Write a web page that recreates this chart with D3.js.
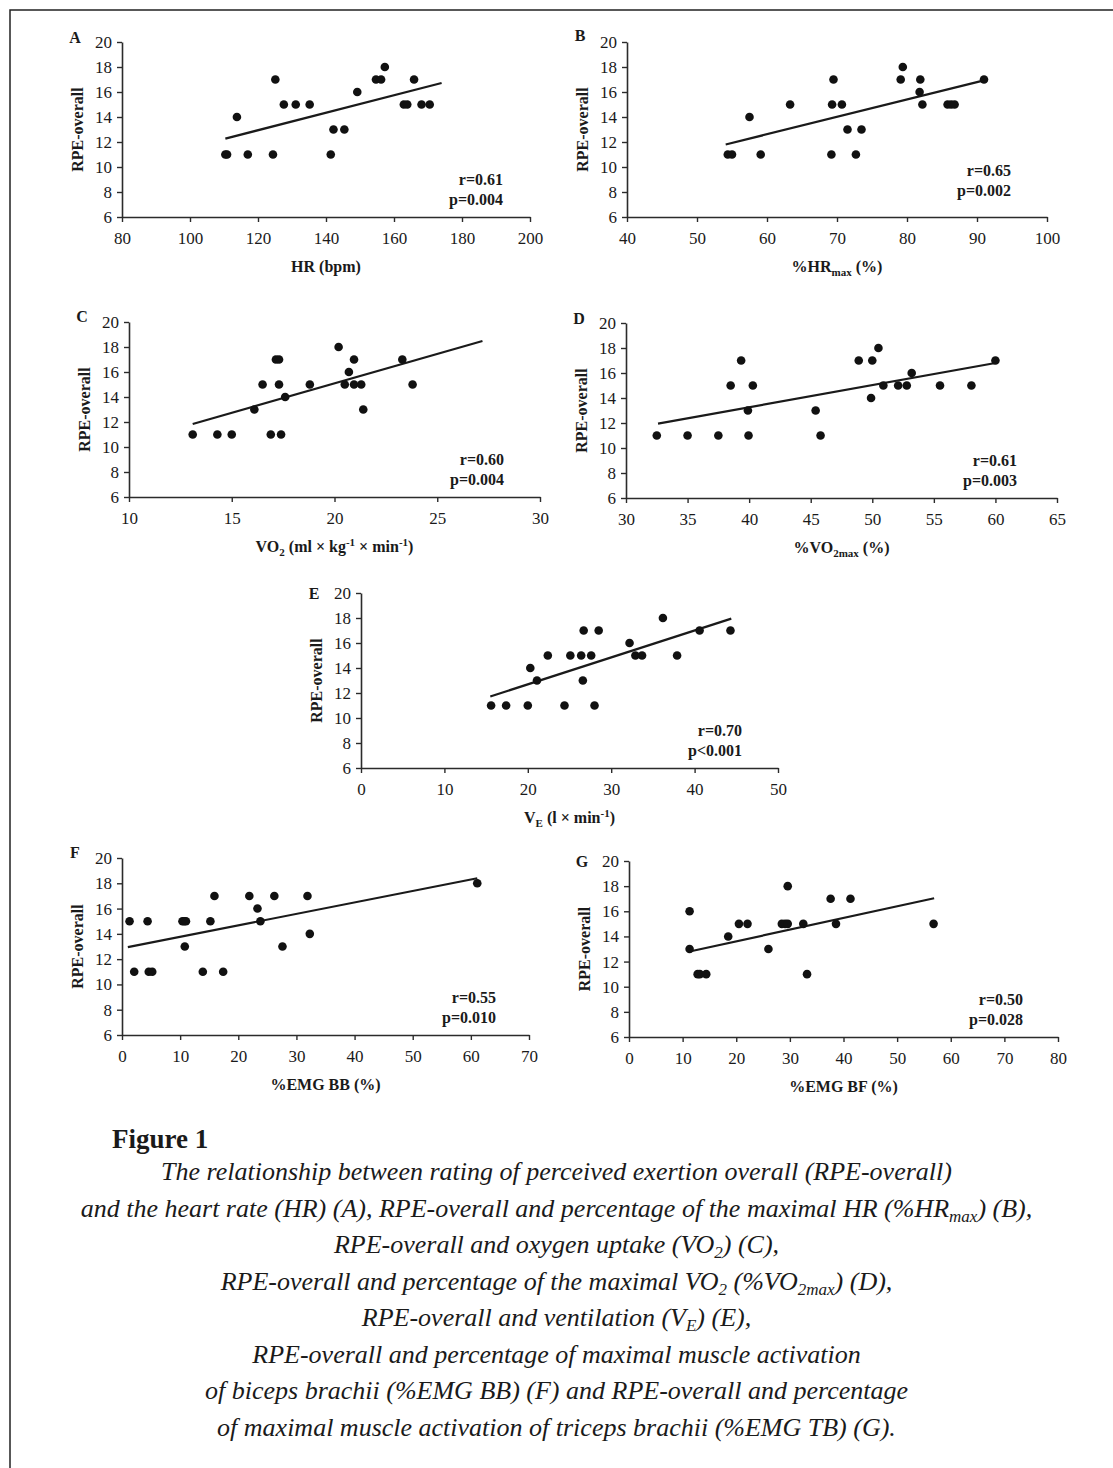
<!DOCTYPE html>
<html>
<head>
<meta charset="utf-8">
<script src="https://cdn.jsdelivr.net/npm/d3@7"></script>
<style>
  body { margin: 0; background: #fff; }
  svg text { font-family: "Liberation Serif", "Times New Roman", serif; fill: #1a1a1a; }
</style>
</head>
<body>
<script>
// RPE-overall scale (y axis, shared by all panels)
var rpeTicks = [6, 8, 10, 12, 14, 16, 18, 20];

// A: heart rate
var hrX = [110.4, 110.9, 113.8, 117, 124.4, 125.1, 127.6, 131.1, 135.2, 141.4, 142.2, 145.4, 149.2, 154.7, 156.2, 157.3, 162.9, 163.9, 165.9, 168.1, 170.5];
var hrY = [11, 11, 14, 11, 11, 17, 15, 15, 15, 11, 13, 13, 16, 17, 17, 18, 15, 15, 17, 15, 15];
var hrFit = [[110.4, 12.27], [174, 16.72]];

// B: %HRmax
var hrMaxX = [54.4, 55.0, 57.5, 59.1, 63.3, 69.2, 69.3, 69.5, 70.7, 71.5, 72.7, 73.5, 79.1, 79.4, 81.8, 81.9, 82.2, 85.8, 86.3, 86.8, 91.0];
var hrMaxY = [11, 11, 14, 11, 15, 11, 15, 17, 15, 13, 11, 13, 17, 18, 16, 17, 15, 15, 15, 15, 17];
var hrMaxFit = [[54.1, 11.8], [91, 16.93]];

// C: VO2
var vo2X = [13.1, 14.3, 15.0, 16.1, 16.5, 16.9, 17.15, 17.3, 17.3, 17.4, 17.6, 18.8, 20.2, 20.5, 20.7, 20.95, 20.95, 21.3, 21.4, 23.3, 23.8];
var vo2Y = [11, 11, 11, 13, 15, 11, 17, 17, 15, 11, 14, 15, 18, 15, 16, 17, 15, 15, 13, 17, 15];
var vo2Fit = [[13.1, 11.84], [27.2, 18.48]];

// D: %VO2max
var vo2MaxX = [32.5, 35.0, 37.5, 38.5, 39.35, 39.9, 39.95, 40.3, 45.4, 45.8, 48.9, 49.9, 50.0, 50.5, 50.9, 52.1, 52.8, 53.2, 55.5, 58.05, 60.0];
var vo2MaxY = [11, 11, 11, 15, 17, 13, 11, 15, 13, 11, 17, 14, 17, 18, 15, 15, 15, 16, 15, 15, 17];
var vo2MaxFit = [[32.6, 11.95], [60, 16.8]];

// E: ventilation
var veX = [15.6, 17.4, 20.0, 20.3, 21.1, 22.4, 24.4, 25.1, 26.4, 26.6, 26.7, 27.6, 28.0, 28.5, 32.2, 32.9, 33.7, 36.2, 37.9, 40.6, 44.3];
var veY = [11, 11, 11, 14, 13, 15, 11, 15, 15, 13, 17, 15, 11, 17, 16, 15, 15, 18, 15, 17, 17];
var veFit = [[15.5, 11.72], [44.4, 17.95]];

// F: %EMG BB
var emgBbX = [1.3, 2.1, 4.4, 4.6, 5.2, 10.4, 10.7, 10.8, 11.0, 13.9, 15.2, 15.9, 17.4, 21.9, 23.3, 23.8, 26.2, 27.6, 31.9, 32.3, 61.1];
var emgBbY = [15, 11, 15, 11, 11, 15, 15, 13, 15, 11, 15, 17, 11, 17, 16, 15, 17, 13, 17, 14, 18];
var emgBbFit = [[1.0, 12.95], [61.1, 18.4]];

// G: %EMG BF
var emgBfX = [11.3, 11.3, 12.8, 13.2, 14.4, 18.5, 20.5, 22.1, 26.0, 28.5, 29.1, 29.6, 29.6, 32.5, 33.2, 37.6, 38.6, 41.3, 56.8];
var emgBfY = [16, 13, 11, 11, 11, 14, 15, 15, 13, 15, 15, 18, 15, 15, 11, 17, 15, 17, 15];
var emgBfFit = [[11.3, 12.8], [56.9, 17.04]];

var captionLines = [
  [['The relationship between rating of perceived exertion overall (RPE-overall)']],
  [['and the heart rate (HR) (A), RPE-overall and percentage of the maximal HR (%HR'], ['max', 'sub'], [') (B),']],
  [['RPE-overall and oxygen uptake (VO'], ['2', 'sub'], [') (C),']],
  [['RPE-overall and percentage of the maximal VO'], ['2', 'sub'], [' (%VO'], ['2max', 'sub'], [') (D),']],
  [['RPE-overall and ventilation (V'], ['E', 'sub'], [') (E),']],
  [['RPE-overall and percentage of maximal muscle activation']],
  [['of biceps brachii (%EMG BB) (F) and RPE-overall and percentage']],
  [['of maximal muscle activation of triceps brachii (%EMG TB) (G).']]
];

// box = [left, right, top, bottom] in px
var panels = [
  {letter: 'A', letterDy: 1, x: hrX, y: hrY, fit: hrFit, domain: [80, 200], step: 20,
   r: 'r=0.61', p: 'p=0.004', statRight: 27, statUp: 0,
   title: [['HR (bpm)']], box: [122, 530, 42, 217]},
  {letter: 'B', letterDy: -1.5, x: hrMaxX, y: hrMaxY, fit: hrMaxFit, domain: [40, 100], step: 10,
   r: 'r=0.65', p: 'p=0.002', statRight: 36, statUp: 9,
   title: [['%HR'], ['max', 'sub'], [' (%)']], box: [627, 1047, 42, 217]},
  {letter: 'C', letterDy: 0, x: vo2X, y: vo2Y, fit: vo2Fit, domain: [10, 30], step: 5,
   r: 'r=0.60', p: 'p=0.004', statRight: 36, statUp: 0,
   title: [['VO'], ['2', 'sub'], [' (ml × kg'], ['-1', 'sup'], [' × min'], ['-1', 'sup'], [')']], box: [129, 540, 322, 497]},
  {letter: 'D', letterDy: 0.5, x: vo2MaxX, y: vo2MaxY, fit: vo2MaxFit, domain: [30, 65], step: 5,
   r: 'r=0.61', p: 'p=0.003', statRight: 40, statUp: 0,
   title: [['%VO'], ['2max', 'sub'], [' (%)']], box: [626, 1057, 323, 498]},
  {letter: 'E', letterDy: 5.5, x: veX, y: veY, fit: veFit, domain: [0, 50], step: 10,
   r: 'r=0.70', p: 'p<0.001', statRight: 36, statUp: 0,
   title: [['V'], ['E', 'sub'], [' (l × min'], ['-1', 'sup'], [')']], box: [361, 778, 593, 768]},
  {letter: 'F', letterDy: -0.5, x: emgBbX, y: emgBbY, fit: emgBbFit, domain: [0, 70], step: 10,
   r: 'r=0.55', p: 'p=0.010', statRight: 33, statUp: 0,
   title: [['%EMG BB (%)']], box: [122, 529, 858, 1035]},
  {letter: 'G', letterDy: 5.5, x: emgBfX, y: emgBfY, fit: emgBfFit, domain: [0, 80], step: 10,
   r: 'r=0.50', p: 'p=0.028', statRight: 35, statUp: 0,
   title: [['%EMG BF (%)']], box: [629, 1058, 861, 1037]}
];

var ink = '#1a1a1a';
var axisInk = '#2b2b2b';

var svg = d3.select('body').append('svg')
    .attr('width', 1113)
    .attr('height', 1468);

// frame of the figure
svg.append('path')
    .attr('d', 'M10,1468V10H1113')
    .attr('fill', 'none')
    .attr('stroke', '#222')
    .attr('stroke-width', 1.5);

function writeRich(textSel, parts, shiftPx, smallSize) {
    var offset = 0;
    parts.forEach(function(part) {
        var ts = textSel.append('tspan').text(part[0]);
        var target = part[1] === 'sub' ? shiftPx : part[1] === 'sup' ? -shiftPx * 1.4 : 0;
        if (target !== offset) {
            ts.attr('dy', target - offset);
            offset = target;
        }
        if (part[1]) {
            ts.attr('font-size', smallSize);
        }
    });
}

function styleAxis(g) {
    g.attr('font-family', '"Liberation Serif", "Times New Roman", serif')
        .attr('font-size', 17);
    g.select('.domain').attr('stroke', axisInk).attr('stroke-width', 1.6);
    g.selectAll('.tick line').attr('stroke', axisInk).attr('stroke-width', 1.4);
    g.selectAll('.tick text').attr('fill', ink);
}

panels.forEach(function(pn) {
    var left = pn.box[0], right = pn.box[1], top = pn.box[2], bottom = pn.box[3];

    var x = d3.scaleLinear().domain(pn.domain).range([left, right]);
    var y = d3.scaleLinear().domain([6, 20]).range([bottom, top]);

    var g = svg.append('g').attr('class', 'panel panel-' + pn.letter);

    g.append('g')
        .attr('class', 'x-axis')
        .attr('transform', 'translate(0,' + bottom + ')')
        .call(d3.axisBottom(x)
            .tickValues(d3.range(pn.domain[0], pn.domain[1] + 0.001, pn.step))
            .tickSize(5)
            .tickPadding(10)
            .tickSizeOuter(0))
        .call(styleAxis);

    g.append('g')
        .attr('class', 'y-axis')
        .attr('transform', 'translate(' + left + ',0)')
        .call(d3.axisLeft(y)
            .tickValues(rpeTicks)
            .tickSize(5)
            .tickPadding(5)
            .tickSizeOuter(0))
        .call(styleAxis);

    // regression line
    g.append('path')
        .datum(pn.fit)
        .attr('d', d3.line()
            .x(function(d) { return x(d[0]); })
            .y(function(d) { return y(d[1]); }))
        .attr('fill', 'none')
        .attr('stroke', ink)
        .attr('stroke-width', 2.2);

    g.selectAll('circle.dot')
        .data(pn.x.map(function(v, i) { return [v, pn.y[i]]; }))
        .enter().append('circle')
        .attr('class', 'dot')
        .attr('cx', function(d) { return x(d[0]); })
        .attr('cy', function(d) { return y(d[1]); })
        .attr('r', 4.3)
        .attr('fill', '#111');

    // panel letter
    g.append('text')
        .attr('x', left - 47)
        .attr('y', top + pn.letterDy)
        .attr('text-anchor', 'middle')
        .attr('font-weight', 'bold')
        .attr('font-size', 16)
        .text(pn.letter);

    // y title
    g.append('text')
        .attr('transform', 'translate(' + (left - 45) + ',' + ((top + bottom) / 2) + ') rotate(-90)')
        .attr('dy', '0.35em')
        .attr('text-anchor', 'middle')
        .attr('font-weight', 'bold')
        .attr('font-size', 16)
        .text('RPE-overall');

    // x title
    var xt = g.append('text')
        .attr('x', (left + right) / 2)
        .attr('y', bottom + 55)
        .attr('text-anchor', 'middle')
        .attr('font-weight', 'bold')
        .attr('font-size', 16);
    writeRich(xt, pn.title, 4, 11);

    // r and p
    g.append('text')
        .attr('x', right - pn.statRight)
        .attr('y', bottom - 32.5 - pn.statUp)
        .attr('text-anchor', 'end')
        .attr('font-weight', 'bold')
        .attr('font-size', 16)
        .text(pn.r);
    g.append('text')
        .attr('x', right - pn.statRight)
        .attr('y', bottom - 12.5 - pn.statUp)
        .attr('text-anchor', 'end')
        .attr('font-weight', 'bold')
        .attr('font-size', 16)
        .text(pn.p);
});

// caption
svg.append('text')
    .attr('x', 112)
    .attr('y', 1148)
    .attr('font-weight', 'bold')
    .attr('font-size', 27)
    .text('Figure 1');

captionLines.forEach(function(line, i) {
    var t = svg.append('text')
        .attr('x', 556.5)
        .attr('y', 1180 + i * 36.5)
        .attr('text-anchor', 'middle')
        .attr('font-style', 'italic')
        .attr('font-size', 26);
    writeRich(t, line, 5, 17);
});
</script>
</body>
</html>
